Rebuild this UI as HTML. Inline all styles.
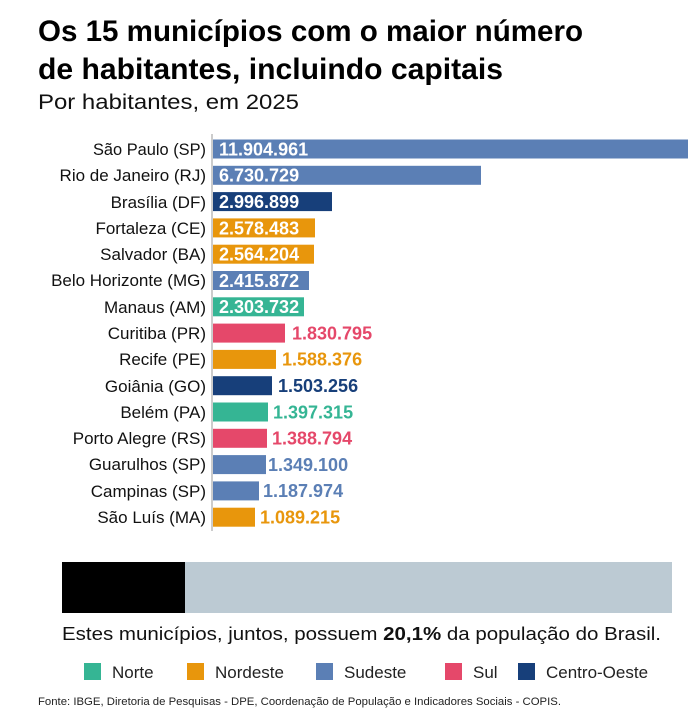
<!DOCTYPE html>
<html><head><meta charset="utf-8"><style>
html,body{margin:0;padding:0;background:#fff;}
svg{display:block;font-family:"Liberation Sans",sans-serif;}
</style></head><body>
<svg width="694" height="709" viewBox="0 0 694 709" xmlns="http://www.w3.org/2000/svg">
<rect width="694" height="709" fill="#fff"/>
<text x="38" y="41" font-size="30" font-weight="bold" fill="#000" textLength="545" lengthAdjust="spacingAndGlyphs">Os 15 municípios com o maior número</text>
<text x="38" y="79" font-size="30" font-weight="bold" fill="#000" textLength="465" lengthAdjust="spacingAndGlyphs">de habitantes, incluindo capitais</text>
<text x="38" y="109" font-size="21" fill="#111" textLength="261" lengthAdjust="spacingAndGlyphs">Por habitantes, em 2025</text>
<line x1="212" y1="134" x2="212" y2="531" stroke="#999" stroke-width="1"/>
<g font-size="17" fill="#111" text-anchor="end">
<text x="206" y="155" textLength="113" lengthAdjust="spacingAndGlyphs">São Paulo (SP)</text>
<text x="206" y="181">Rio de Janeiro (RJ)</text>
<text x="206" y="208">Brasília (DF)</text>
<text x="206" y="234">Fortaleza (CE)</text>
<text x="206" y="260">Salvador (BA)</text>
<text x="206" y="286">Belo Horizonte (MG)</text>
<text x="206" y="313">Manaus (AM)</text>
<text x="206" y="339">Curitiba (PR)</text>
<text x="206" y="365">Recife (PE)</text>
<text x="206" y="392">Goiânia (GO)</text>
<text x="206" y="418">Belém (PA)</text>
<text x="206" y="444">Porto Alegre (RS)</text>
<text x="206" y="470">Guarulhos (SP)</text>
<text x="206" y="497">Campinas (SP)</text>
<text x="206" y="523">São Luís (MA)</text>
</g>
<g>
<rect x="213" y="139.5" width="475" height="19" fill="#5b7fb5"/>
<rect x="213" y="165.8" width="268" height="19" fill="#5b7fb5"/>
<rect x="213" y="192.1" width="119" height="19" fill="#173f7a"/>
<rect x="213" y="218.4" width="102" height="19" fill="#e8960c"/>
<rect x="213" y="244.7" width="101" height="19" fill="#e8960c"/>
<rect x="213" y="271" width="96" height="19" fill="#5b7fb5"/>
<rect x="213" y="297.3" width="91" height="19" fill="#35b594"/>
<rect x="213" y="323.6" width="72" height="19" fill="#e5486a"/>
<rect x="213" y="349.9" width="63" height="19" fill="#e8960c"/>
<rect x="213" y="376.2" width="59" height="19" fill="#173f7a"/>
<rect x="213" y="402.5" width="55" height="19" fill="#35b594"/>
<rect x="213" y="428.8" width="54" height="19" fill="#e5486a"/>
<rect x="213" y="455.1" width="53" height="19" fill="#5b7fb5"/>
<rect x="213" y="481.4" width="46" height="19" fill="#5b7fb5"/>
<rect x="213" y="507.7" width="42" height="19" fill="#e8960c"/>
</g>
<g font-size="18" font-weight="bold">
<text x="219" y="155.5" fill="#fff">11.904.961</text>
<text x="219" y="181.5" fill="#fff">6.730.729</text>
<text x="219" y="208" fill="#fff">2.996.899</text>
<text x="219" y="234.5" fill="#fff">2.578.483</text>
<text x="219" y="260.5" fill="#fff">2.564.204</text>
<text x="219" y="287" fill="#fff">2.415.872</text>
<text x="219" y="313" fill="#fff">2.303.732</text>
<text x="292" y="339.5" fill="#e5486a">1.830.795</text>
<text x="282" y="365.5" fill="#e8960c">1.588.376</text>
<text x="278" y="392" fill="#173f7a">1.503.256</text>
<text x="273" y="418.5" fill="#35b594">1.397.315</text>
<text x="272" y="444.5" fill="#e5486a">1.388.794</text>
<text x="268" y="471" fill="#5b7fb5">1.349.100</text>
<text x="263" y="497" fill="#5b7fb5">1.187.974</text>
<text x="260" y="523.5" fill="#e8960c">1.089.215</text>
</g>
<rect x="62" y="562" width="610" height="51" fill="#bccad3"/>
<rect x="62" y="562" width="123" height="51" fill="#000"/>
<text x="62" y="640" font-size="18" fill="#111" textLength="599" lengthAdjust="spacingAndGlyphs">Estes municípios, juntos, possuem <tspan font-weight="bold">20,1%</tspan> da população do Brasil.</text>
<g font-size="17" fill="#222">
<rect x="84" y="663" width="17" height="17" fill="#35b594"/><text x="112" y="678">Norte</text>
<rect x="187" y="663" width="17" height="17" fill="#e8960c"/><text x="215" y="678">Nordeste</text>
<rect x="316" y="663" width="17" height="17" fill="#5b7fb5"/><text x="344" y="678">Sudeste</text>
<rect x="445" y="663" width="17" height="17" fill="#e5486a"/><text x="473" y="678">Sul</text>
<rect x="518" y="663" width="17" height="17" fill="#173f7a"/><text x="546" y="678">Centro-Oeste</text>
</g>
<text x="38" y="705" font-size="11" fill="#222" textLength="523" lengthAdjust="spacingAndGlyphs">Fonte:  IBGE, Diretoria de Pesquisas - DPE, Coordenação de População e Indicadores Sociais - COPIS.</text>
</svg>
</body></html>
